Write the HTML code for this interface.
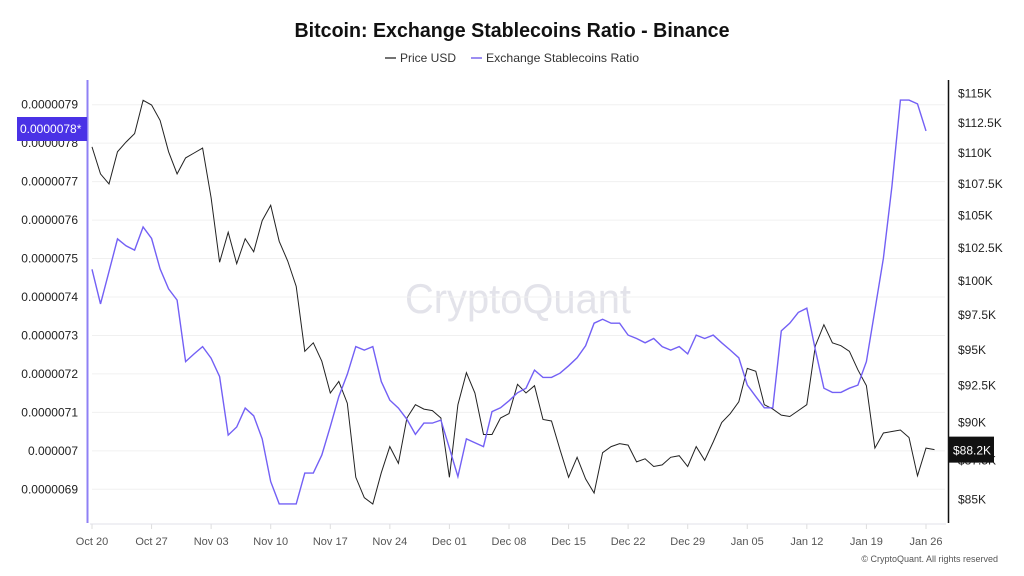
<!DOCTYPE html>
<html><head><meta charset="utf-8"><style>
html,body{margin:0;padding:0;background:#fff;}
svg{display:block;font-family:"Liberation Sans",sans-serif;}
</style></head><body>
<svg id="chart" width="1024" height="576" viewBox="0 0 1024 576" xmlns="http://www.w3.org/2000/svg">
<text x="512" y="37" text-anchor="middle" font-size="20" font-weight="bold" fill="#111" textLength="435" lengthAdjust="spacingAndGlyphs">Bitcoin: Exchange Stablecoins Ratio - Binance</text>
<g><line x1="385" y1="58" x2="396" y2="58" stroke="#444" stroke-width="1.5"/><text x="400" y="62" font-size="12" fill="#333" textLength="56" lengthAdjust="spacingAndGlyphs">Price USD</text></g>
<g><line x1="471" y1="58" x2="482" y2="58" stroke="#7b68ee" stroke-width="1.5"/><text x="486" y="62" font-size="12" fill="#333" textLength="153" lengthAdjust="spacingAndGlyphs">Exchange Stablecoins Ratio</text></g>
<text x="518" y="313" text-anchor="middle" font-size="42" fill="#e3e3ea" textLength="226" lengthAdjust="spacingAndGlyphs">CryptoQuant</text>
<g id="grid"></g>
<g id="axes"></g>
<g id="series"></g>
<text x="998" y="562" text-anchor="end" font-size="9" fill="#555">© CryptoQuant. All rights reserved</text>
</svg>
<script>
const dates = ["Oct 20","Oct 27","Nov 03","Nov 10","Nov 17","Nov 24","Dec 01","Dec 08","Dec 15","Dec 22","Dec 29","Jan 05","Jan 12","Jan 19","Jan 26"];
const ratioTicks = [0.0000079,0.0000078,0.0000077,0.0000076,0.0000075,0.0000074,0.0000073,0.0000072,0.0000071,0.000007,0.0000069];
const ratioTickLabels = ["0.0000079","0.0000078","0.0000077","0.0000076","0.0000075","0.0000074","0.0000073","0.0000072","0.0000071","0.000007","0.0000069"];
const priceTicks = [115000,112500,110000,107500,105000,102500,100000,97500,95000,92500,90000,87500,85000];
const priceTickLabels = ["$115K","$112.5K","$110K","$107.5K","$105K","$102.5K","$100K","$97.5K","$95K","$92.5K","$90K","$87.5K","$85K"];
const ratio = [74.72,73.82,74.66,75.51,75.33,75.22,75.82,75.52,74.73,74.21,73.92,72.32,72.52,72.71,72.41,71.93,70.41,70.62,71.11,70.91,70.31,69.20,68.62,68.62,68.62,69.42,69.42,69.89,70.63,71.41,71.99,72.71,72.62,72.71,71.80,71.32,71.11,70.82,70.43,70.72,70.72,70.80,70.07,69.33,70.31,70.21,70.11,71.02,71.12,71.30,71.51,71.63,72.10,71.91,71.91,72.02,72.21,72.42,72.73,73.32,73.42,73.32,73.32,73.01,72.92,72.81,72.92,72.71,72.62,72.71,72.52,73.01,72.92,73.01,72.81,72.62,72.42,71.71,71.41,71.12,71.12,73.12,73.32,73.60,73.71,72.62,71.63,71.52,71.52,71.63,71.71,72.32,73.66,75.01,76.87,79.12,79.12,79.02,78.32].map(v=>v*1e-7);
const price = [110.5,108.3,107.5,110.1,110.9,111.6,114.4,114.0,112.7,110.1,108.3,109.6,110.0,110.4,106.4,101.4,103.7,101.3,103.2,102.2,104.6,105.8,103.0,101.5,99.6,94.9,95.5,94.2,92.0,92.8,91.3,86.4,85.1,84.7,86.7,88.4,87.3,90.3,91.2,90.9,90.8,90.3,86.4,91.2,93.4,92.0,89.2,89.2,90.3,90.6,92.6,92.0,92.5,90.2,90.1,88.2,86.4,87.7,86.3,85.4,88.0,88.4,88.6,88.5,87.4,87.6,87.1,87.2,87.7,87.8,87.1,88.4,87.5,88.7,90.0,90.6,91.4,93.7,93.5,91.2,90.9,90.5,90.4,90.8,91.2,95.3,96.8,95.5,95.3,94.9,93.6,92.5,88.3,89.3,89.4,89.5,89.0,86.5,88.3,88.2].map(v=>v*1000);

const NS="http://www.w3.org/2000/svg";
const X0=92, DX=8.51;
const xAt = i => X0 + DX*i;
const yRatio = v => 104.7 + (0.0000079 - v)/1e-7*38.46;
const yPrice = p => 93.3 + (Math.log(115000) - Math.log(p))*1343;
function mk(tag, attrs, parent){const e=document.createElementNS(NS,tag);for(const k in attrs)e.setAttribute(k,attrs[k]);parent.appendChild(e);return e;}
const grid=document.getElementById('grid'), axes=document.getElementById('axes'), series=document.getElementById('series');

ratioTicks.forEach((t,i)=>{
  const y=yRatio(t);
  const g=mk('line',{x1:92,x2:945,y1:y,y2:y,stroke:'#f0f0f0','stroke-width':1},grid);
  
  
  const tx=mk('text',{x:78,y:y+4,'text-anchor':'end','font-size':12,fill:'#222'},axes);
  tx.textContent=ratioTickLabels[i];
  
  
});
priceTicks.forEach((t,i)=>{
  const y=yPrice(t);
  const tx=mk('text',{x:958,y:y+4,'font-size':12,fill:'#222'},axes);
  tx.textContent=priceTickLabels[i];
  
  
});
dates.forEach((d,i)=>{
  const x=xAt(i*7);
  const tk=mk('line',{x1:x,x2:x,y1:524,y2:529,stroke:'#ddd'},axes);
  
  
  const tx=mk('text',{x:x,y:545,'text-anchor':'middle','font-size':11,fill:'#555'},axes);
  tx.textContent=d;
  
  
});
const bl=mk('line',{x1:90,x2:946,y1:524,y2:524,stroke:'#e0e0e8'},axes);


const la=mk('line',{x1:87.5,x2:87.5,y1:80,y2:523,stroke:'#8f80f5','stroke-width':2},axes);


const ra=mk('line',{x1:948.5,x2:948.5,y1:80,y2:523,stroke:'#111','stroke-width':1.5},axes);



const pp=mk('polyline',{points:price.map((p,i)=>xAt(i).toFixed(1)+','+yPrice(p).toFixed(1)).join(' '),fill:'none',stroke:'#222','stroke-width':1},series);


const rp=mk('polyline',{points:ratio.map((v,i)=>xAt(i).toFixed(1)+','+yRatio(v).toFixed(1)).join(' '),fill:'none',stroke:'#7360f5','stroke-width':1.4},series);



// current value badges
const lastR=ratio[ratio.length-1], yr=yRatio(lastR);
const lb=mk('rect',{x:17,y:117,width:70,height:24,fill:'#4a32e6'},axes);


const lt=mk('text',{x:20,y:133,'font-size':12,fill:'#fff'},axes);
lt.textContent='0.0000078*';


const lastP=price[price.length-1], yp=yPrice(lastP);
const rb=mk('rect',{x:949,y:yp-13,width:45,height:26,fill:'#111'},axes);


const rt=mk('text',{x:953,y:yp+5,'font-size':12,fill:'#fff'},axes);
rt.textContent='$'+(lastP/1000).toFixed(1)+'K';


</script>
</body></html>
